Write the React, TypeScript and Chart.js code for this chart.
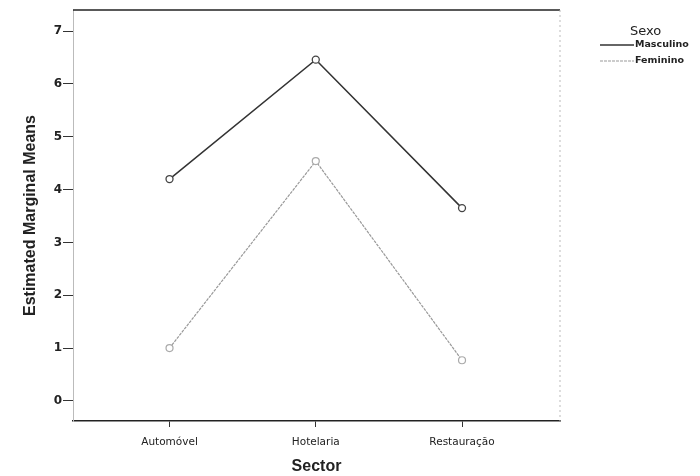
import React, { useEffect, useRef } from "react";
import { Chart, registerables } from "chart.js";

Chart.register(...registerables);

const categories = ["Automóvel", "Hotelaria", "Restauração"];
const masculino = [4.2, 6.46, 3.65];
const feminino = [1.0, 4.54, 0.77];
const yTicks = [0, 1, 2, 3, 4, 5, 6, 7];
const legendTitle = "Sexo";
const seriesNames = ["Masculino", "Feminino"];

const FONT = "'Liberation Sans', Arial, sans-serif";
const WIDE = "'DejaVu Sans', sans-serif";

const framePlugin = {
  id: "frame",
  afterDraw(chart: any) {
    const { ctx, chartArea } = chart;
    const { left, right, top, bottom } = chartArea;
    ctx.save();
    ctx.strokeStyle = "#222";
    ctx.lineWidth = 1.5;
    ctx.beginPath();
    ctx.moveTo(left, top);
    ctx.lineTo(right, top);
    ctx.stroke();
    ctx.strokeStyle = "#bbb";
    ctx.lineWidth = 1;
    ctx.setLineDash([2, 3]);
    ctx.beginPath();
    ctx.moveTo(right, top);
    ctx.lineTo(right, bottom);
    ctx.stroke();
    ctx.setLineDash([]);

    ctx.fillStyle = "#222";
    ctx.textBaseline = "middle";
    ctx.textAlign = "left";
    ctx.font = `13px ${WIDE}`;
    ctx.fillText(legendTitle, 630, 32);
    const colors = ["#333", "#999"];
    const dashes = [[], [3, 1]];
    const ys = [45, 61];
    ctx.font = `bold 9.5px ${WIDE}`;
    seriesNames.forEach((name, i) => {
      ctx.strokeStyle = colors[i];
      ctx.lineWidth = i === 0 ? 1.5 : 1;
      ctx.setLineDash(dashes[i]);
      ctx.beginPath();
      ctx.moveTo(600, ys[i]);
      ctx.lineTo(634, ys[i]);
      ctx.stroke();
      ctx.setLineDash([]);
      ctx.fillStyle = "#222";
      ctx.fillText(name, 635, ys[i]);
    });
    ctx.restore();
  },
};

export default function App() {
  const ref = useRef<HTMLCanvasElement>(null);
  useEffect(() => {
    document.body.style.margin = "0";
    const toPts = (arr: number[]) => arr.map((v, i) => ({ x: i, y: v }));
    const chart = new Chart(ref.current!, {
      type: "line",
      data: {
        datasets: [
          {
            label: seriesNames[0],
            data: toPts(masculino),
            borderColor: "#333",
            borderWidth: 1.5,
            pointRadius: 3.5,
            pointBackgroundColor: "#fff",
            pointBorderColor: "#444",
            pointBorderWidth: 1.3,
            tension: 0,
          },
          {
            label: seriesNames[1],
            data: toPts(feminino),
            borderColor: "#999",
            borderWidth: 1.2,
            borderDash: [3, 1],
            pointRadius: 3.5,
            pointBackgroundColor: "#fff",
            pointBorderColor: "#aaa",
            pointBorderWidth: 1.2,
            tension: 0,
          },
        ],
      },
      options: {
        animation: false,
        responsive: false,
        maintainAspectRatio: false,
        layout: { padding: { left: 0, right: 140, top: 10, bottom: 0 } },
        plugins: { legend: { display: false }, tooltip: { enabled: false } },
        scales: {
          x: {
            type: "linear",
            min: -0.66,
            max: 2.67,
            afterBuildTicks: (s: any) => {
              s.ticks = categories.map((_, i) => ({ value: i }));
            },
            afterFit: (s: any) => {
              s.height = 55;
            },
            ticks: {
              callback: (v: any) => categories[v] ?? "",
              color: "#222",
              font: { family: WIDE, size: 10.5 },
              padding: 9,
              maxRotation: 0,
            },
            grid: {
              drawOnChartArea: false,
              drawTicks: true,
              tickLength: 6,
              color: "#333",
            },
            border: { display: true, color: "#222", width: 1.5 },
            title: {
              display: true,
              text: "Sector",
              color: "#222",
              font: { family: FONT, size: 16, weight: "bold" },
              padding: { top: 0, bottom: 0 },
            },
          },
          y: {
            type: "linear",
            min: -0.38,
            max: 7.4,
            afterBuildTicks: (s: any) => {
              s.ticks = yTicks.map((v) => ({ value: v }));
            },
            afterFit: (s: any) => {
              s.width = 73;
            },
            ticks: {
              color: "#222",
              font: { family: WIDE, size: 12, weight: "bold" },
              padding: 1,
            },
            grid: {
              drawOnChartArea: false,
              drawTicks: true,
              tickLength: 10,
              color: "#333",
            },
            border: { display: true, color: "#bbb", dash: [2, 3] },
            title: {
              display: true,
              text: "Estimated Marginal Means",
              color: "#222",
              font: { family: FONT, size: 16, weight: "bold" },
              padding: { top: 21, bottom: 4 },
            },
          },
        },
      },
      plugins: [framePlugin],
    } as any);
    return () => chart.destroy();
  }, []);
  return (
    <div style={{ position: "absolute", left: 0, top: 0, width: 700, height: 476, background: "#fff" }}>
      <canvas ref={ref} width={700} height={476} />
    </div>
  );
}
